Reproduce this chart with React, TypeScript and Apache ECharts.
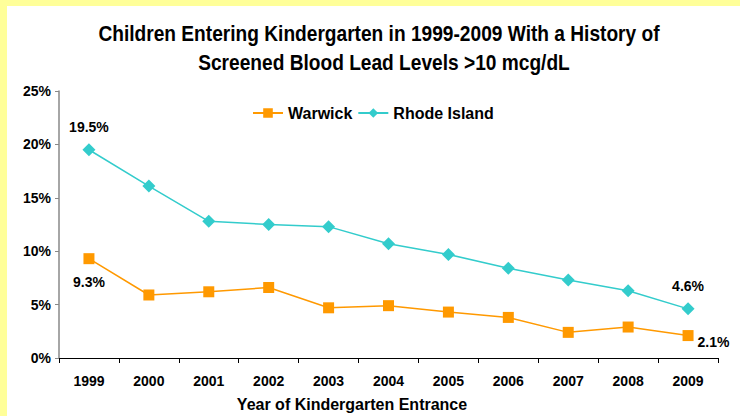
import React, { useEffect, useRef } from "react";
import * as echarts from "echarts";

const years = ["1999", "2000", "2001", "2002", "2003", "2004", "2005", "2006", "2007", "2008", "2009"];
const warwick = [9.3, 5.9, 6.2, 6.6, 4.7, 4.9, 4.3, 3.8, 2.4, 2.9, 2.1];
const rhodeIsland = [19.5, 16.1, 12.8, 12.5, 12.3, 10.7, 9.7, 8.4, 7.3, 6.3, 4.6];
const titleLines = [
  "Children Entering Kindergarten in 1999-2009 With a History of",
  "Screened Blood Lead Levels >10 mcg/dL",
];
const xAxisName = "Year of Kindergarten Entrance";

const FONT = "'Liberation Sans', Arial, sans-serif";

export default function App() {
  const ref = useRef<HTMLDivElement>(null);
  useEffect(() => {
    if (!ref.current) return;
    const chart = echarts.init(ref.current, null, { renderer: "svg" });
    const last = years.length - 1;
    const lbl = { show: true, fontSize: 14, fontWeight: "bold", color: "#000", fontFamily: FONT,
      formatter: (p: any) => Number(p.value).toFixed(1) + "%" };
    const wData = warwick.map((v, i) => {
      if (i === 0) return { value: v, label: { ...lbl, position: "bottom", distance: 11 } };
      if (i === last) return { value: v, label: { ...lbl, position: "right", distance: 4, offset: [0, 6] } };
      return v;
    });
    const rData = rhodeIsland.map((v, i) => {
      if (i === 0) return { value: v, label: { ...lbl, position: "top", distance: 9 } };
      if (i === last) return { value: v, label: { ...lbl, position: "top", distance: 9 } };
      return v;
    });
    chart.setOption({
      animation: false,
      backgroundColor: "#ffffff",
      textStyle: { fontFamily: FONT },
      legend: {
        left: 247,
        top: 100,
        itemWidth: 30,
        itemHeight: 12,
        itemGap: 5,
        textStyle: { fontSize: 16, fontWeight: "bold", color: "#000", fontFamily: FONT },
        data: ["Warwick", "Rhode Island"],
      },
      grid: { left: 59, right: 22, top: 91, bottom: 58 },
      xAxis: {
        type: "category",
        data: years,
        boundaryGap: true,
        axisLine: { lineStyle: { color: "#000", width: 1 } },
        axisTick: { show: true, length: 5, lineStyle: { color: "#000" } },
        axisLabel: { fontSize: 14, fontWeight: "bold", color: "#000", margin: 16, fontFamily: FONT },
      },
      yAxis: {
        type: "value",
        min: 0,
        max: 25,
        interval: 5,
        splitLine: { show: false },
        axisLine: { show: true, lineStyle: { color: "#888", width: 1.5 } },
        axisTick: { show: true, length: 4, lineStyle: { color: "#888" } },
        axisLabel: { formatter: "{value}%", fontSize: 14, fontWeight: "bold", color: "#000", margin: 8, fontFamily: FONT },
      },
      graphic: [
        { type: "rect", left: 0, top: 0, shape: { width: 740, height: 6 }, style: { fill: "#FFFF99" } },
        { type: "rect", left: 0, top: 0, shape: { width: 7, height: 416 }, style: { fill: "#FFFF99" } },
        {
          type: "text",
          x: 379,
          y: 33,
          scaleX: 0.87,
          style: { text: titleLines[0], fontSize: 22, fontWeight: "bold", fill: "#000", align: "center", verticalAlign: "middle", fontFamily: FONT },
        },
        {
          type: "text",
          x: 384,
          y: 62,
          scaleX: 0.87,
          style: { text: titleLines[1], fontSize: 22, fontWeight: "bold", fill: "#000", align: "center", verticalAlign: "middle", fontFamily: FONT },
        },
        {
          type: "text",
          x: 352,
          y: 404,
          style: { text: xAxisName, fontSize: 16, fontWeight: "bold", fill: "#000", align: "center", verticalAlign: "middle", fontFamily: FONT },
        },
      ],
      series: [
        {
          name: "Warwick",
          type: "line",
          data: wData,
          symbol: "rect",
          symbolSize: 11,
          lineStyle: { color: "#FF9900", width: 1.5 },
          itemStyle: { color: "#FF9900" },
        },
        {
          name: "Rhode Island",
          type: "line",
          data: rData,
          symbol: "diamond",
          symbolSize: 13,
          lineStyle: { color: "#33CCCC", width: 1.5 },
          itemStyle: { color: "#33CCCC" },
        },
      ],
    });
    return () => chart.dispose();
  }, []);
  return <div ref={ref} style={{ position: "fixed", left: 0, top: 0, width: 740, height: 416 }} />;
}
